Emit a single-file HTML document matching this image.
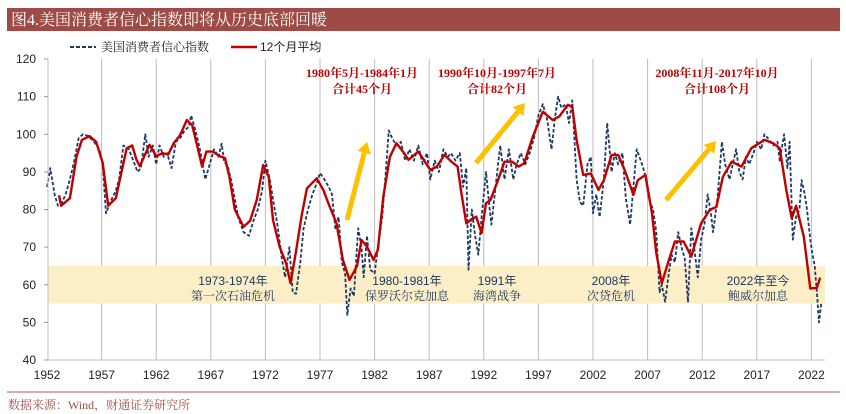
<!DOCTYPE html>
<html><head><meta charset="utf-8">
<style>
html,body{margin:0;padding:0;background:#fff;}
body{width:846px;height:414px;overflow:hidden;position:relative;}
svg{position:absolute;left:0;top:0;}
</style></head>
<body>
<svg id="chart" width="846" height="414" xmlns="http://www.w3.org/2000/svg">
  <rect x="7" y="8" width="833" height="23" fill="#9E4A45"/>
  <text x="11" y="25" fill="#fff" font-size="16" font-family="'Liberation Serif','Noto Serif CJK SC',serif">图4.美国消费者信心指数即将从历史底部回暖</text>
  <g>
    <line x1="70" y1="47" x2="96" y2="47" stroke="#1F3864" stroke-width="2" stroke-dasharray="4,2"/>
    <text x="101" y="51" font-size="12" fill="#222" font-family="'Liberation Serif','Noto Serif CJK SC',serif">美国消费者信心指数</text>
    <line x1="231" y1="47" x2="257" y2="47" stroke="#C00000" stroke-width="2.5"/>
    <text x="260" y="51" font-size="12" fill="#222" font-family="'Liberation Sans','Noto Sans CJK SC',sans-serif">12个月平均</text>
  </g>
  <g id="grid"></g>
  <g id="band"></g>
  <g id="series"></g>
  <g id="notes"></g>
  <g id="axes"></g>
  <line x1="7" y1="392" x2="840" y2="392" stroke="#C0504D" stroke-width="1"/>
  <text x="8" y="409" font-size="12" fill="#A0504B" font-family="'Liberation Serif','Noto Serif CJK SC',serif">数据来源：Wind，财通证券研究所</text>
</svg>
<script>
const xTicks = [1952,1957,1962,1967,1972,1977,1982,1987,1992,1997,2002,2007,2012,2017,2022];
const yTicks = [40,50,60,70,80,90,100,110,120];
const bandRange = [55,65];
const indexYears = [1952.0,1952.3,1952.7,1953.0,1953.4,1953.7,1954.1,1954.5,1954.9,1955.3,1955.8,1956.3,1956.8,1957.1,1957.4,1957.8,1958.3,1958.6,1959.0,1959.5,1959.9,1960.3,1960.6,1961.0,1961.3,1961.7,1962.0,1962.3,1962.7,1963.0,1963.4,1963.8,1964.2,1964.6,1965.0,1965.2,1965.6,1966.0,1966.5,1966.9,1967.3,1967.7,1968.0,1968.2,1968.6,1969.0,1969.5,1970.0,1970.5,1970.9,1971.3,1971.7,1972.0,1972.4,1972.8,1973.1,1973.5,1973.8,1974.2,1974.5,1974.8,1975.2,1975.5,1975.9,1976.3,1976.7,1977.0,1977.4,1977.8,1978.1,1978.4,1978.7,1979.0,1979.3,1979.5,1979.8,1980.1,1980.5,1980.8,1981.0,1981.3,1981.6,1982.0,1982.3,1982.7,1983.0,1983.3,1983.6,1984.0,1984.4,1984.8,1985.2,1985.6,1986.0,1986.4,1986.8,1987.1,1987.5,1987.9,1988.3,1988.7,1989.0,1989.4,1989.8,1990.1,1990.4,1990.6,1990.9,1991.2,1991.5,1991.8,1992.2,1992.5,1992.7,1993.0,1993.5,1993.9,1994.3,1994.7,1995.0,1995.4,1995.8,1996.2,1996.6,1997.0,1997.4,1997.8,1998.2,1998.5,1998.8,1999.1,1999.5,1999.8,2000.1,2000.5,2000.8,2001.1,2001.5,2001.8,2002.0,2002.3,2002.6,2003.0,2003.3,2003.7,2004.0,2004.3,2004.7,2005.0,2005.4,2005.7,2006.0,2006.5,2006.8,2007.1,2007.5,2007.8,2008.1,2008.3,2008.6,2008.9,2009.2,2009.5,2009.8,2010.1,2010.4,2010.7,2011.0,2011.3,2011.6,2011.9,2012.2,2012.5,2012.8,2013.0,2013.4,2013.8,2014.1,2014.5,2014.8,2015.1,2015.4,2015.7,2016.0,2016.3,2016.7,2017.0,2017.4,2017.7,2018.0,2018.5,2018.9,2019.1,2019.5,2019.8,2020.0,2020.3,2020.6,2020.9,2021.1,2021.4,2021.6,2021.9,2022.1,2022.3,2022.5,2022.7,2022.9];
const indexValues = [86,91,84,81,82,84,88,93,99,100,99.5,98,96,92,79,82,85,88,97,96,93,90,91,100,94,97,92,97,94,95,91,98,99,101,102,105,101,96,88,92,96,94,97.5,93,91,86,78,74,73,77,80,85,93,88,81,76,67,62,70,58,57.6,66,75,80,84,87,89.7,88,86,84,75,78,66,63,52,59,57,75,70,62,73,64,63,70,78,89,101,99,97,98,93,96,93,97,92,95,88,93,90,96,94,95,93,95,86,91,64,80,73,68,78,90,81,76,84,97,88,96,88,92,95,92,95,99,105,108,104,96,104,110,107,108,103,109,88,82,81,92,94,79,84,78,88,103,90,95,92,95,83,76,86,96,92,89,83,80,74,58,60,55.5,62,68,66,74,70,67,55.5,75,69,62,72,76,84,79,74,83,98,92,88,92,96,90,88,94,92,95,98,96,100,99,97,98,93,100,91,98,72,78,80,87.8,84,80,72,68,65,58,50,55,63,72.8];
const maYears = [1953.1,1953.3,1954.1,1954.7,1955.2,1955.9,1956.5,1957.1,1957.6,1958.3,1958.8,1959.3,1959.8,1960.2,1960.5,1961.1,1961.4,1962.0,1962.6,1963.1,1963.6,1964.2,1964.8,1965.3,1965.7,1966.2,1966.6,1967.2,1967.8,1968.3,1968.7,1969.2,1970.0,1970.6,1971.2,1971.8,1972.3,1972.7,1973.3,1973.9,1974.3,1974.8,1975.3,1975.8,1976.7,1977.3,1977.9,1978.5,1979.1,1979.7,1980.4,1980.8,1981.3,1981.9,1982.3,1982.8,1983.4,1984.0,1984.6,1985.1,1986.0,1986.5,1987.1,1987.7,1988.4,1989.0,1989.6,1989.9,1990.4,1990.8,1991.3,1991.8,1992.2,1992.6,1993.3,1993.9,1994.6,1995.2,1995.7,1996.5,1997.4,1998.3,1998.9,1999.7,2000.1,2000.5,2001.1,2001.8,2002.5,2003.0,2003.7,2004.3,2004.9,2005.7,2006.1,2006.8,2007.4,2007.8,2008.3,2008.9,2009.5,2010.3,2011.0,2011.9,2012.7,2013.3,2013.9,2014.7,2015.6,2016.5,2017.7,2018.5,2019.1,2019.7,2020.2,2020.6,2021.3,2021.9,2022.5,2022.8];
const maValues = [83.8,81,83,94,98.5,99.5,98,92.4,81,83,89.7,96.3,97,93.2,91.5,95.4,97.2,94.2,95,94.6,97.6,99.8,103.8,102.4,97.6,91.4,95.4,95.4,94.2,93.7,88.7,80,75.4,77,82.5,91.8,88.7,77.2,70.1,65.7,60.4,68.8,78,85.6,88.3,85.2,80.7,76.4,66.6,61.3,65,71.9,70.1,66.6,69.3,83.4,94,97.6,95.4,93.2,95.4,93.2,90.5,91.4,94.5,92.8,91.4,85.2,76.3,77.2,78.1,73.7,81.7,82.5,87.8,92.7,92.7,91.4,92.3,99.4,106,103.8,104.7,107.8,107.3,98.5,89.2,89.6,85.2,87.8,94.5,94.5,90.5,83.9,87.8,89.2,79,68.4,60.4,66.1,71.5,71.5,67.5,76.3,79.9,80.7,88.7,92.7,91.4,96.3,98.5,97.6,96.3,85.2,77.7,81,72.8,59,59.2,61.9];

const NS='http://www.w3.org/2000/svg';
const L=48,R=825,T=59,B=360;
const X0=1952,XPER=10.92;
function xs(yr){return L-1+(yr-X0)*XPER;}
function ys(v){return B-(v-40)*(B-T)/80;}
function mk(tag,attrs,parent){const e=document.createElementNS(NS,tag);for(const k in attrs)e.setAttribute(k,attrs[k]);parent.appendChild(e);return e;}

const grid=document.getElementById('grid');
xTicks.forEach(t=>{
  if(t===1952) return;
  const g=mk('line',{x1:xs(t),x2:xs(t),y1:T,y2:B,stroke:'#BDBDBD','stroke-width':1},grid);
  
  
});
const band=document.getElementById('band');
const br=mk('rect',{x:L,y:ys(bandRange[1]),width:R-L,height:ys(bandRange[0])-ys(bandRange[1]),fill:'#FCEFC7'},band);



const axes=document.getElementById('axes');
const la=mk('line',{x1:L,x2:L,y1:T,y2:B,stroke:'#BFBFBF','stroke-width':1},axes);


const ba=mk('line',{x1:L,x2:R,y1:B,y2:B,stroke:'#BFBFBF','stroke-width':1},axes);


yTicks.forEach(v=>{
  const tk=mk('line',{x1:L-4,x2:L,y1:ys(v),y2:ys(v),stroke:'#999'},axes);
  
  
  const t=mk('text',{x:36,y:ys(v)+4,'text-anchor':'end','font-size':12,fill:'#222','font-family':"'Liberation Sans',sans-serif"},axes);
  t.textContent=v;
  
  
});
xTicks.forEach(t=>{
  const tx=mk('text',{x:xs(t),y:379,'text-anchor':'middle','font-size':12,fill:'#222','font-family':"'Liberation Sans',sans-serif"},axes);
  tx.textContent=t;
  
  
});

const series=document.getElementById('series');
const p1=mk('polyline',{points:indexYears.map((y,i)=>xs(y).toFixed(1)+','+ys(indexValues[i]).toFixed(1)).join(' '),fill:'none',stroke:'#1F3864','stroke-width':1.8,'stroke-dasharray':'3.5,2','stroke-linejoin':'round'},series);


const p2=mk('polyline',{points:maYears.map((y,i)=>xs(y).toFixed(1)+','+ys(maValues[i]).toFixed(1)).join(' '),fill:'none',stroke:'#C00000','stroke-width':2.4,'stroke-linejoin':'round'},series);



const notes=document.getElementById('notes');
const serif="'Liberation Serif','Noto Serif CJK SC',serif";
[[362,'1980年5月-1984年1月','合计45个月'],[497,'1990年10月-1997年7月','合计82个月'],[717,'2008年11月-2017年10月','合计108个月']].forEach(a=>{
  const t1=mk('text',{x:a[0],y:77,'text-anchor':'middle','font-size':12,'font-weight':'bold',fill:'#C00000','font-family':serif},notes);
  t1.textContent=a[1];
  
  
  const t2=mk('text',{x:a[0],y:93,'text-anchor':'middle','font-size':12,'font-weight':'bold',fill:'#C00000','font-family':serif},notes);
  t2.textContent=a[2];
  
  
});
[[347,220,367,142],[476,163,525,103],[666,200,716,141]].forEach(a=>{
  const [x1,y1,x2,y2]=a;const dx=x2-x1,dy=y2-y1,len=Math.hypot(dx,dy),ux=dx/len,uy=dy/len;
  const bx=x2-ux*11,by=y2-uy*11;
  const ln=mk('line',{x1:x1,y1:y1,x2:bx,y2:by,stroke:'#FFC000','stroke-width':5},notes);
  
  
  const hd=mk('polygon',{points:`${x2},${y2} ${bx-uy*7},${by+ux*7} ${bx+uy*7},${by-ux*7}`,fill:'#FFC000'},notes);
  
  
});
[[233,'1973-1974年','第一次石油危机'],[407,'1980-1981年','保罗沃尔克加息'],[497,'1991年','海湾战争'],[611,'2008年','次贷危机'],[758,'2022年至今','鲍威尔加息']].forEach(a=>{
  const t1=mk('text',{x:a[0],y:285,'text-anchor':'middle','font-size':12,fill:'#1F3864','font-family':"'Liberation Sans','Noto Sans CJK SC',sans-serif"},notes);
  t1.textContent=a[1];
  
  
  const t2=mk('text',{x:a[0],y:300,'text-anchor':'middle','font-size':12,fill:'#1F3864','font-family':"'Liberation Serif','Noto Serif CJK SC',serif"},notes);
  t2.textContent=a[2];
  
  
});
</script>
</body></html>
